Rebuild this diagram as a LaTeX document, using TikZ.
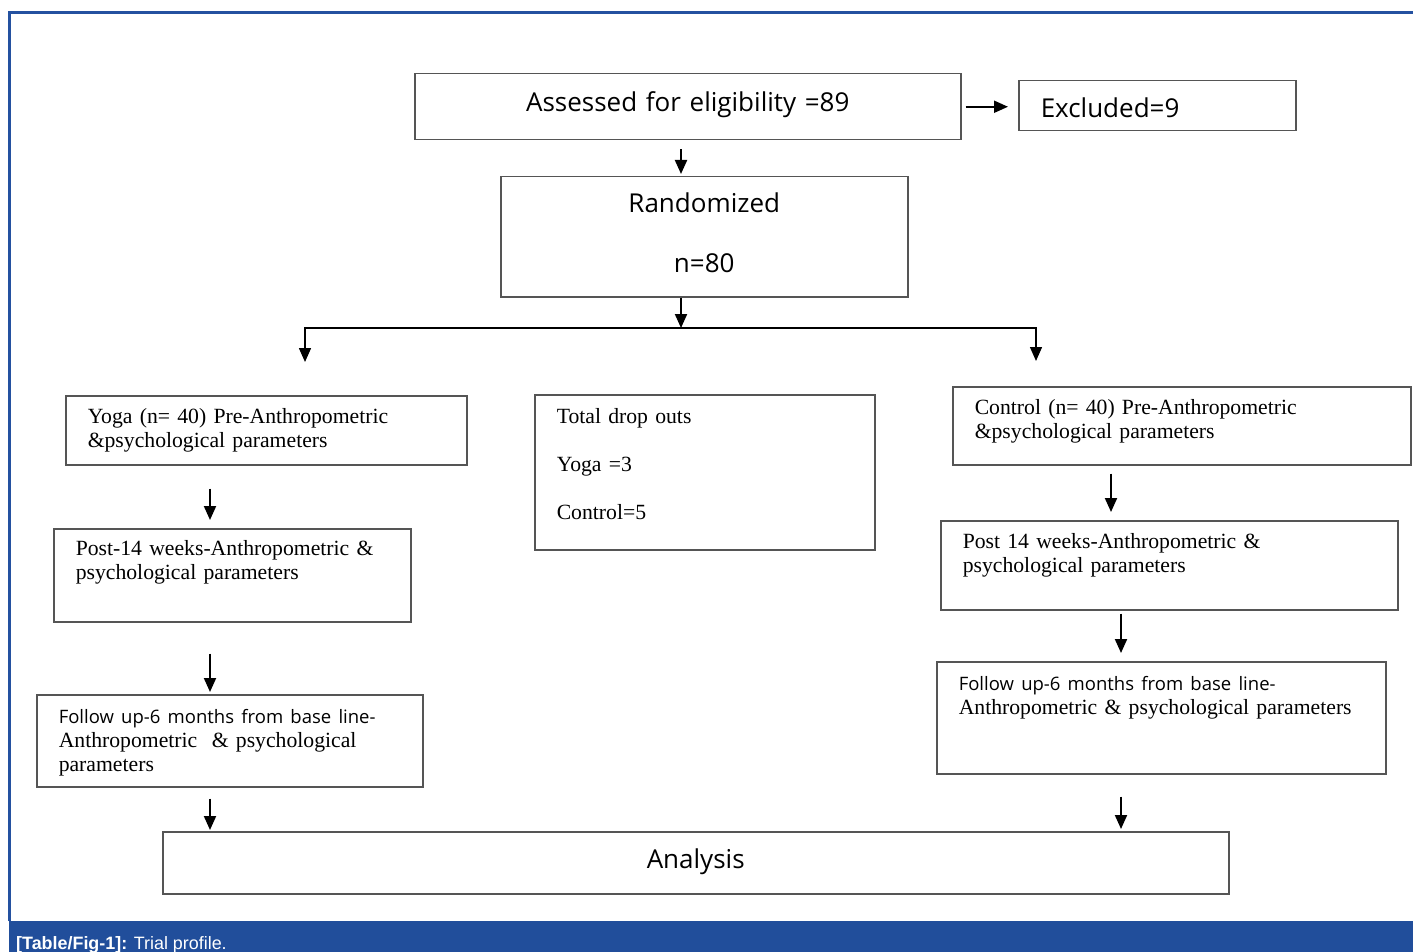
\documentclass[tikz,border=0pt]{standalone}
\usepackage{fontspec}
\setmainfont{Liberation Serif}
\setsansfont{Open Sans}
\newfontfamily\capfont{Liberation Sans}
\usetikzlibrary{arrows.meta}

\definecolor{frameblue}{HTML}{2451A0}
\definecolor{capblue}{HTML}{214E9B}
\definecolor{boxgray}{HTML}{555555}

\tikzset{
	stagebox/.style={draw=boxgray, line width=1.5pt, anchor=north west, inner ysep=0pt, inner xsep=22pt, align=left, font=\fontsize{21.7}{24}\selectfont},
	sanstext/.style={font=\sffamily\fontsize{26}{30}\selectfont},
	flowarrow/.style={-{Triangle[length=14pt,width=12pt]}, line width=2pt, black},
}

\begin{document}
\begin{tikzpicture}[x=1pt, y=-1pt]
	\useasboundingbox (0,0) rectangle (1413,952);
	% frame and caption bar
	\fill[capblue] (9,921) rectangle (1413,952);
	\draw[frameblue, line width=3pt] (9,921) -- (9,13) -- (1413,13);
	\node[anchor=base west, inner sep=0pt, text=white, font=\capfont\fontsize{17.9}{20}\selectfont] (caption) at (16,949) {\textbf{[Table/Fig-1]:} Trial profile.};

	% boxes
	\node[stagebox, sanstext, align=center, text width=502pt, text height=38pt, text depth=28pt] (assess) at (414,73) {Assessed for eligibility =89};
	\node[stagebox, sanstext, text width=233pt, text height=37pt, text depth=13pt] (excl) at (1018,80) {Excluded=9};
	\node[stagebox, align=center, font=\sffamily\fontsize{26}{60}\selectfont, text width=363pt, text height=36pt, text depth=84pt] (rand) at (500,176) {Randomized\\n=80};
	\node[stagebox, text width=357pt, text height=28pt, text depth=41pt] (yoga) at (65,395) {Yoga (n= 40) Pre-Anthropometric\\\&psychological parameters};
	\node[stagebox, text width=296pt, text height=29pt, text depth=126pt] (drop) at (534,394) {Total drop outs\\[24pt]Yoga =3\\[24pt]Control=5};
	\node[stagebox, text width=414pt, text height=28pt, text depth=50pt] (ctrl) at (952,386) {Control (n= 40) Pre-Anthropometric\\\&psychological parameters};
	\node[stagebox, text width=313pt, text height=27pt, text depth=66pt] (postl) at (53,528) {Post-14 weeks-Anthropometric \&\\psychological parameters};
	\node[stagebox, text width=342pt, text height=29pt, text depth=63pt] (followl) at (36,694) {{\sffamily\fontsize{18.5}{24}\selectfont Follow up-6 months from base line-}\\Anthropometric~ \& psychological\\parameters};
	\node[stagebox, text width=413pt, text height=28pt, text depth=61pt] (postr) at (940,520) {Post 14 weeks-Anthropometric \&\\psychological parameters};
	\node[stagebox, text width=405pt, text height=29pt, text depth=83pt] (followr) at (936,661) {{\sffamily\fontsize{18.5}{24}\selectfont Follow up-6 months from base line-}\\Anthropometric \& psychological parameters};
	\node[stagebox, sanstext, align=center, text width=1022pt, text height=37pt, text depth=25pt] (analysis) at (162,831) {Analysis};

	% connectors
	\coordinate (split) at (681,328);
	\coordinate (yogatip) at (305,362);
	\coordinate (ctrltip) at (1036,361);
	\coordinate (lcol) at (210,0);
	\coordinate (rcolup) at (1111,0);
	\coordinate (rcol) at (1121,0);

	\draw[flowarrow, shorten <=4pt, shorten >=10pt] (assess.east) -- (assess.east -| excl.west);
	\draw[flowarrow, shorten <=9pt, shorten >=2pt] (split |- assess.south) -- (split |- rand.north);
	\draw[flowarrow] (split |- rand.south) -- (split);
	\draw[flowarrow, line width=1.5pt] (split) -| (yogatip);
	\draw[flowarrow, line width=1.5pt] (split) -| (ctrltip);

	\draw[flowarrow, shorten <=23pt, shorten >=8pt] (lcol |- yoga.south) -- (lcol |- postl.north);
	\draw[flowarrow, shorten <=31pt, shorten >=2pt] (lcol |- postl.south) -- (lcol |- followl.north);
	\draw[flowarrow, shorten <=11pt, shorten >=1pt] (lcol |- followl.south) -- (lcol |- analysis.north);

	\draw[flowarrow, shorten <=8pt, shorten >=8pt] (rcolup |- ctrl.south) -- (rcolup |- postr.north);
	\draw[flowarrow, shorten <=3pt, shorten >=8pt] (rcol |- postr.south) -- (rcol |- followr.north);
	\draw[flowarrow, shorten <=22pt, shorten >=2pt] (rcol |- followr.south) -- (rcol |- analysis.north);
\end{tikzpicture}
\end{document}
